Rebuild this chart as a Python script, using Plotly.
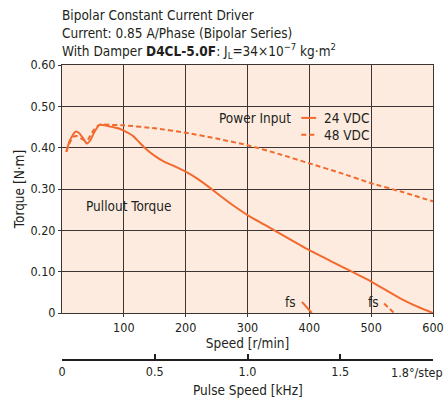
import plotly.graph_objects as go

# ---- data ----
speed_24 = [7, 12, 18, 22, 28, 34, 40, 46, 52, 61, 75, 91, 100, 115, 125, 135, 150, 165, 185, 200,
            220, 240, 260, 280, 300, 340, 400, 450, 500, 550, 580, 600]
torque_24 = [0.39, 0.415, 0.432, 0.439, 0.435, 0.423, 0.41, 0.418, 0.437, 0.455, 0.452, 0.447,
             0.441, 0.428, 0.413, 0.398, 0.38, 0.366, 0.353, 0.342, 0.324, 0.302, 0.279, 0.257,
             0.237, 0.203, 0.152, 0.114, 0.076, 0.033, 0.012, 0.0]
speed_48 = [7, 12, 18, 24, 30, 36, 42, 50, 60, 80, 100, 150, 200, 250, 300, 350, 400, 450, 500, 550, 600]
torque_48 = [0.39, 0.41, 0.425, 0.428, 0.423, 0.418, 0.42, 0.44, 0.455, 0.455, 0.454, 0.447, 0.436,
             0.422, 0.406, 0.385, 0.362, 0.339, 0.314, 0.293, 0.27]
fs_speed_24 = [388, 404]
fs_torque_24 = [0.027, 0.0]
fs_speed_48 = [521, 537]
fs_torque_48 = [0.023, 0.0]

speed_ticks = [100, 200, 300, 400, 500, 600]
torque_ticks = [0, 0.1, 0.2, 0.3, 0.4, 0.5, 0.6]
torque_labels = ["0", "0.10", "0.20", "0.30", "0.40", "0.50", "0.60"]
pulse_ticks = [0, 0.5, 1.0, 1.5, 2.0]
pulse_labels = ["0", "0.5", "1.0", "1.5", " "]

ORANGE = "#f26a2e"
DARK = "#3d3535"
TEXT = "#231f20"
FONT = "DejaVu Sans Condensed, Liberation Sans Narrow, sans-serif"
FS = 13.5   # text
FT = 12.5   # tick labels
DASH = "5px,3px"

fig = go.Figure()
fig.add_trace(go.Scatter(x=speed_24, y=torque_24, mode="lines", name="24 VDC",
                         line=dict(color=ORANGE, width=2, shape="spline", smoothing=0.5)))
fig.add_trace(go.Scatter(x=speed_48, y=torque_48, mode="lines", name="48 VDC",
                         line=dict(color=ORANGE, width=2, dash=DASH, shape="spline", smoothing=0.6)))
fig.add_trace(go.Scatter(x=fs_speed_24, y=fs_torque_24, mode="lines", showlegend=False,
                         line=dict(color=ORANGE, width=2)))
fig.add_trace(go.Scatter(x=fs_speed_48, y=fs_torque_48, mode="lines", showlegend=False,
                         line=dict(color=ORANGE, width=2, dash=DASH)))
# invisible trace to activate secondary (pulse speed) axis
fig.add_trace(go.Scatter(x=[0, 2.0], y=[None, None], xaxis="x2", yaxis="y", mode="lines",
                         showlegend=False, hoverinfo="skip"))

W, H = 446, 401
L, R, T, B = 62, 13, 65, 41
plot_h = H - T - B
main_bottom_px = 313
ydom0 = (T + plot_h - main_bottom_px) / plot_h

fig.update_layout(
    width=W, height=H,
    margin=dict(l=L, r=R, t=T, b=B, autoexpand=False),
    paper_bgcolor="white",
    plot_bgcolor="#fdebdf",
    showlegend=False,
    font=dict(family=FONT, size=FS, color=TEXT),
    xaxis=dict(range=[0, 600], tickvals=speed_ticks, ticktext=[str(v) for v in speed_ticks],
               tickfont=dict(size=FT),
               showgrid=True, gridcolor=DARK, gridwidth=1, zeroline=False,
               showline=True, linecolor=DARK, linewidth=1, mirror=True,
               ticks="outside", ticklen=3, tickcolor=DARK, automargin=False,
               title=dict(text="Speed [r/min]", standoff=3, font=dict(size=FS)),
               anchor="y"),
    yaxis=dict(range=[0, 0.6], tickvals=torque_ticks, ticktext=torque_labels,
               tickfont=dict(size=FT),
               domain=[ydom0, 1], automargin=False,
               showgrid=True, gridcolor=DARK, gridwidth=1, zeroline=False,
               showline=True, linecolor=DARK, linewidth=1, mirror=True,
               ticks="outside", ticklen=3, tickcolor=DARK,
               title=dict(text="Torque [N·m]", standoff=2, font=dict(size=FS))),
    xaxis2=dict(range=[0, 2.0], tickvals=pulse_ticks, ticktext=pulse_labels,
                tickfont=dict(size=FT),
                anchor="free", position=0, overlaying="x", side="bottom", automargin=False,
                showgrid=False, zeroline=False, showline=True, linecolor=TEXT, linewidth=1.5,
                ticks="inside", ticklen=5, tickcolor=TEXT, tickwidth=1.5),
)

ann = []
title_lines = [
    "Bipolar Constant Current Driver",
    "Current: 0.85 A/Phase (Bipolar Series)",
    "With Damper <b>D4CL-5.0F</b>: J<sub>L</sub>=34×10<sup>−7</sup> kg·m<sup>2</sup>",
]
for i, t in enumerate(title_lines):
    ypx = [15, 33, 51][i]
    ann.append(dict(text=t, xref="paper", yref="paper", x=0, xshift=-2,
                    y=(H - B - ypx) / plot_h, xanchor="left", yanchor="middle",
                    showarrow=False, font=dict(size=FS)))

# legend inside plot
ann.append(dict(text="Power Input", xref="x", yref="y", x=374, y=0.472, xanchor="right",
                yanchor="middle", showarrow=False, font=dict(size=FS)))
ann.append(dict(text="24 VDC", xref="x", yref="y", x=420, y=0.472, xanchor="left",
                yanchor="middle", showarrow=False, font=dict(size=FS)))
ann.append(dict(text="48 VDC", xref="x", yref="y", x=420, y=0.431, xanchor="left",
                yanchor="middle", showarrow=False, font=dict(size=FS)))
ann.append(dict(text="Pullout Torque", xref="x", yref="y", x=35, y=0.259, xanchor="left",
                yanchor="middle", showarrow=False, font=dict(size=FS)))
ann.append(dict(text="fs", xref="x", yref="y", x=370, y=0.026, xanchor="center",
                yanchor="middle", showarrow=False, font=dict(size=FS)))
ann.append(dict(text="fs", xref="x", yref="y", x=504, y=0.026, xanchor="center",
                yanchor="middle", showarrow=False, font=dict(size=FS)))
# secondary axis end label and title
ann.append(dict(text="1.8°/step", xref="paper", yref="paper", x=1.0, xshift=12,
                y=(H - B - 372) / plot_h, xanchor="right", yanchor="middle",
                showarrow=False, font=dict(size=FT)))
ann.append(dict(text="Pulse Speed [kHz]", xref="paper", yref="paper", x=0.5,
                y=(H - B - 390) / plot_h, xanchor="center", yanchor="middle",
                showarrow=False, font=dict(size=FS)))
fig.update_layout(annotations=ann)

# legend line samples
fig.add_shape(type="line", xref="x", yref="y", x0=387, x1=411, y0=0.472, y1=0.472,
              line=dict(color=ORANGE, width=2))
fig.add_shape(type="line", xref="x", yref="y", x0=387, x1=411, y0=0.431, y1=0.431,
              line=dict(color=ORANGE, width=2, dash=DASH))

fig.write_html("out.html", config={"displayModeBar": False},
               post_script="document.body.style.margin='0px';")
